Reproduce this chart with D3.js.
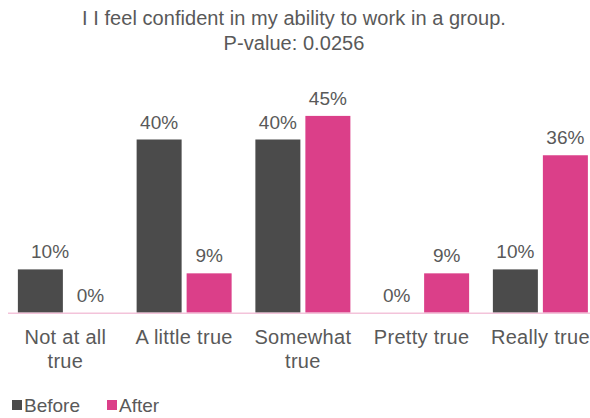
<!DOCTYPE html>
<html>
<head>
<meta charset="utf-8">
<script src="https://cdn.jsdelivr.net/npm/d3@7"></script>
<style>
  html, body { margin: 0; padding: 0; background: #fff; }
  svg { display: block; }
  text { font-family: "Liberation Sans", Arial, Helvetica, sans-serif; fill: #595959; }
</style>
</head>
<body>
<svg id="chart" width="590" height="418"></svg>
<script>
// Survey item: answers before and after the programme (share of respondents)
const titleLines = ["I I feel confident in my ability to work in a group.", "P-value: 0.0256"];
const categories = ["Not at all true", "A little true", "Somewhat true", "Pretty true", "Really true"];
const categoryLines = [["Not at all", "true"], ["A little true"], ["Somewhat", "true"], ["Pretty true"], ["Really true"]];
const seriesNames = ["Before", "After"];
const beforeValues = [0.10, 0.40, 0.40, 0.00, 0.10];
const afterValues = [0.00, 0.0909, 0.4545, 0.0909, 0.3636];
const seriesColors = ["#4b4b4b", "#db3f89"];

const svg = d3.select("#chart");
const baseY = 312.7;

const x0 = d3.scaleBand().domain(categories).range([6, 599.75]).paddingInner(0.2).paddingOuter(0.1);
const x1 = d3.scaleBand().domain(seriesNames).range([0, x0.bandwidth()]).paddingInner(0.1).paddingOuter(0);
const y = d3.scaleLinear().domain([0, 0.5]).range([baseY, baseY - 216.5]);
const fmt = d3.format(".0%");

const rows = categories.map((c, i) => ({
  cat: c,
  vals: [
    { s: "Before", v: beforeValues[i] },
    { s: "After", v: afterValues[i] }
  ]
}));
const color = d3.scaleOrdinal().domain(seriesNames).range(seriesColors);

// Title
svg.append("g").selectAll("text").data(titleLines).join("text")
  .attr("x", 294).attr("y", (d, i) => 24.5 + i * 25)
  .attr("text-anchor", "middle").attr("font-size", 20)
  .attr("letter-spacing", 0.05)
  .text(d => d);

// Bars
const groups = svg.append("g").selectAll("g").data(rows).join("g")
  .attr("transform", d => `translate(${x0(d.cat)},0)`);

groups.selectAll("rect").data(d => d.vals).join("rect")
  .attr("x", d => x1(d.s))
  .attr("width", x1.bandwidth())
  .attr("y", d => y(d.v))
  .attr("height", d => y(0) - y(d.v))
  .attr("fill", d => color(d.s));

// Baseline
svg.append("line")
  .attr("x1", 8).attr("x2", 590)
  .attr("y1", baseY + 0.5).attr("y2", baseY + 0.5)
  .attr("stroke", "#f3c3da").attr("stroke-width", 1.5);

// Value labels, kept clear of the left edge of the plot
const labelLeft = 31;
groups.each(function (row) {
  const gx = x0(row.cat);
  d3.select(this).selectAll("text.val").data(row.vals).join("text")
    .attr("class", "val")
    .attr("font-size", 19)
    .attr("text-anchor", "middle")
    .attr("y", d => y(d.v) - 11)
    .text(d => fmt(d.v))
    .attr("x", function (d) {
      const cx = x1(d.s) + x1.bandwidth() / 2;
      const w = this.getComputedTextLength();
      return Math.max(cx, labelLeft - gx + w / 2);
    });
});

// Category labels
const catG = svg.append("g").selectAll("text").data(categories).join("text")
  .attr("text-anchor", "middle").attr("font-size", 20)
  .attr("letter-spacing", 0.3)
  .attr("transform", d => `translate(${x0(d) + x0.bandwidth() / 2},0)`);
catG.selectAll("tspan").data((d, i) => categoryLines[i]).join("tspan")
  .attr("x", 0).attr("y", (d, i) => 344 + i * 24)
  .text(d => d);

// Legend
const legend = svg.append("g").attr("transform", "translate(12,405)");
const legendX = [0, 95];
seriesNames.forEach((s, i) => {
  const g = legend.append("g").attr("transform", `translate(${legendX[i]},0)`);
  g.append("rect").attr("x", 0).attr("y", -5).attr("width", 10).attr("height", 10).attr("fill", color(s));
  g.append("text").attr("x", 12).attr("y", 6.5).attr("font-size", 19).text(s);
});
</script>
</body>
</html>
